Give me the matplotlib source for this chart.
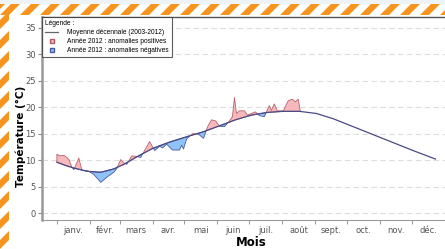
import numpy as np
import matplotlib
matplotlib.use("Agg")
import matplotlib.pyplot as plt
from matplotlib.lines import Line2D
from matplotlib.patches import Polygon

# Moyenne decennale (jour de l'annee, temperature)
mean_days = [0, 8, 16, 28, 41, 53, 63, 75, 90, 106, 122, 137, 152, 168, 183,
             198, 213, 228, 244, 260, 275, 290, 305, 320, 335, 356]
mean_temp = [9.6, 9.0, 8.5, 7.9, 7.7, 8.3, 9.2, 10.6, 12.2, 13.4, 14.4, 15.3,
             16.4, 17.6, 18.5, 19.0, 19.2, 19.2, 18.8, 17.8, 16.6, 15.4, 14.2,
             13.0, 11.8, 10.2]

# Annee 2012
days_2012 = [0, 2.8, 6.6, 9.4, 11.3, 14, 16, 20.6, 23.5, 29, 34.7, 41.3, 47.8,
             53.5, 56.3, 60, 62.9, 65.7, 70.4, 75, 78.8, 87.2, 92, 96.6, 99.4,
             103.2, 108.8, 115.4, 117.3, 119.1, 122, 127.6, 133.2, 137.9, 141.7,
             145.4, 149.2, 152.9, 157.6, 162.3, 165.1, 167, 168.9, 171.7, 176.4,
             179.2, 186.7, 190.4, 195.1, 199.8, 201.7, 204.5, 207.3, 213, 215.8,
             217.6, 221.4, 224.2, 227, 228.9]
temp_2012 = [11.1, 10.8, 10.9, 10.5, 10.1, 8.7, 8.2, 10.4, 8.1, 8.0, 7.3, 5.8,
             6.9, 7.7, 8.4, 10.1, 9.5, 9.2, 10.8, 10.7, 10.5, 13.5, 11.8, 12.6,
             12.3, 13.0, 11.9, 11.9, 12.8, 12.1, 14.0, 15.0, 14.9, 14.1, 16.3,
             17.6, 17.4, 16.4, 16.3, 17.4, 18.2, 21.8, 18.8, 19.3, 19.3, 18.5,
             19.1, 18.4, 18.2, 20.3, 19.4, 20.6, 19.3, 19.3, 20.5, 21.2, 21.5,
             21.0, 21.5, 19.2]

month_starts = [0, 31, 59, 90, 120, 151, 181, 212, 243, 273, 304, 334, 365]
month_labels = ["janv.", "févr.", "mars", "avr.", "mai", "juin", "juil.",
                "août", "sept.", "oct.", "nov.", "déc."]

W, H = 445, 249
fig = plt.figure(figsize=(W / 100, H / 100), dpi=100)


def px2fig(pts):
    return [(px / W, 1 - py / H) for px, py in pts]


# bande a rayures du haut
for s in np.arange(-20, W + 20, 20):
    fig.patches.append(Polygon(px2fig([(s, 15), (s + 9, 15), (s + 20, 4), (s + 11, 4)]),
                               transform=fig.transFigure, facecolor='#f7941d',
                               edgecolor='none'))
# bande a rayures de gauche
for s in np.arange(-20, H + 40, 20):
    fig.patches.append(Polygon(px2fig([(0, s), (0, s + 9), (9, s), (9, s - 9)]),
                               transform=fig.transFigure, facecolor='#f7941d',
                               edgecolor='none'))
fig.patches.append(Polygon(px2fig([(0, 0), (W, 0), (W, 4), (0, 4)]),
                           transform=fig.transFigure, facecolor='#eef3f6', edgecolor='none'))

ax = fig.add_axes([42 / W, 29 / H, 1 - 42 / W, 203 / H])

d12 = np.array(days_2012)
t12 = np.array(temp_2012)
m12 = np.interp(d12, mean_days, mean_temp)

ax.fill_between(d12, t12, m12, where=t12 >= m12, interpolate=True,
                facecolor='#f6b8bb', edgecolor='#b8646e', lw=0.6, zorder=3)
ax.fill_between(d12, t12, m12, where=t12 <= m12, interpolate=True,
                facecolor='#8fc3f7', edgecolor='#4a5a9e', lw=0.6, zorder=3)
ax.plot(mean_days, mean_temp, color='#4a4a85', lw=0.9, zorder=4)

ax.set_xlim(-14, 364)
ax.set_ylim(-1.3, 37)
ax.set_yticks(range(0, 40, 5))
ax.yaxis.grid(True, linestyle=(0, (5, 3)), color='#dddddd', lw=0.8)
ax.set_axisbelow(True)

ax.set_xticks(month_starts, minor=True)
mids = [(month_starts[i] + month_starts[i + 1]) / 2 for i in range(12)]
ax.set_xticks(mids)
ax.set_xticklabels(month_labels)
ax.tick_params(axis='x', which='major', length=0, labelsize=6, labelcolor='#555555', pad=4)
ax.tick_params(axis='x', which='minor', length=3, color='#888888')
ax.tick_params(axis='y', length=3, color='#888888', labelsize=6, labelcolor='#555555', pad=1.5)

ax.spines['right'].set_visible(False)
ax.spines['left'].set_color('#999999')
ax.spines['left'].set_linewidth(1.8)
ax.spines['bottom'].set_color('#999999')
ax.spines['top'].set_color('#555555')
ax.spines['top'].set_linewidth(1.0)

ax.set_xlabel("Mois", fontsize=8.5, fontweight='bold')
ax.xaxis.set_label_coords(0.52, -0.078)
ax.set_ylabel("Température (°C)", fontsize=7.5, fontweight='bold')
ax.yaxis.set_label_coords(-0.04, 0.41)

handles = [
    Line2D([], [], color='#666666', lw=0.9),
    Line2D([], [], marker='s', color='none', markerfacecolor='#f6b8bb',
           markeredgecolor='#b05a66', markersize=3.5),
    Line2D([], [], marker='s', color='none', markerfacecolor='#8fc3f7',
           markeredgecolor='#4a5a9e', markersize=3.5),
]
labels = ["Moyenne décennale (2003-2012)", "Année 2012 : anomalies positives",
          "Année 2012 : anomalies négatives"]
leg = ax.legend(handles, labels, title="Légende :", loc='upper left',
                bbox_to_anchor=(0.0, 1.0), prop={'family': 'Liberation Sans', 'size': 4.8},
                title_fontproperties={'family': 'Liberation Sans', 'size': 4.8},
                frameon=True, fancybox=False, edgecolor='#333333',
                handlelength=2.0, handletextpad=1.3, labelspacing=0.3,
                borderpad=0.45, alignment='left', borderaxespad=0)
leg.get_frame().set_linewidth(0.8)
leg.set_zorder(10)

fig.savefig("out.png", dpi=100)
